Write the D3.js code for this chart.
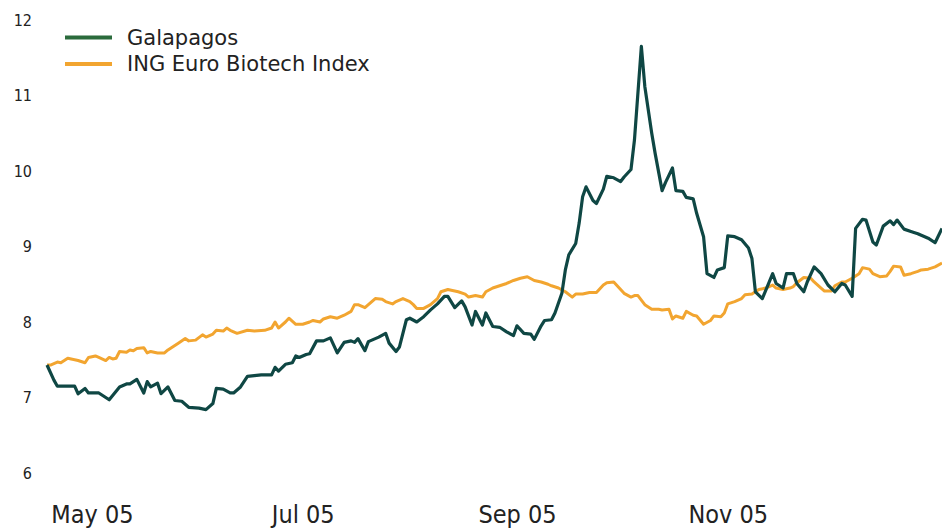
<!DOCTYPE html>
<html>
<head>
<meta charset="utf-8">
<script src="https://cdn.jsdelivr.net/npm/d3@7"></script>
<style>
  html, body { margin: 0; padding: 0; background: #fff; }
  svg { display: block; }
</style>
</head>
<body>
<svg id="chart" width="942" height="529"></svg>
<script>
const seriesNames = ["Galapagos", "ING Euro Biotech Index"];

const galDates = ["2005-04-18","2005-04-20","2005-04-21","2005-04-26","2005-04-27","2005-04-29","2005-04-30","2005-05-03","2005-05-06","2005-05-09","2005-05-11","2005-05-12","2005-05-14","2005-05-16","2005-05-17","2005-05-18","2005-05-20","2005-05-21","2005-05-23","2005-05-25","2005-05-27","2005-05-29","2005-06-01","2005-06-03","2005-06-05","2005-06-06","2005-06-08","2005-06-10","2005-06-11","2005-06-13","2005-06-15","2005-06-17","2005-06-19","2005-06-22","2005-06-23","2005-06-24","2005-06-26","2005-06-28","2005-06-29","2005-06-30","2005-07-02","2005-07-03","2005-07-05","2005-07-07","2005-07-09","2005-07-11","2005-07-13","2005-07-15","2005-07-16","2005-07-17","2005-07-19","2005-07-20","2005-07-22","2005-07-23","2005-07-25","2005-07-26","2005-07-28","2005-07-29","2005-07-31","2005-08-01","2005-08-03","2005-08-05","2005-08-07","2005-08-09","2005-08-11","2005-08-12","2005-08-14","2005-08-16","2005-08-17","2005-08-19","2005-08-20","2005-08-22","2005-08-23","2005-08-25","2005-08-27","2005-08-29","2005-08-31","2005-09-01","2005-09-03","2005-09-05","2005-09-06","2005-09-08","2005-09-09","2005-09-11","2005-09-12","2005-09-14","2005-09-15","2005-09-16","2005-09-18","2005-09-19","2005-09-20","2005-09-21","2005-09-23","2005-09-24","2005-09-26","2005-09-27","2005-09-29","2005-10-01","2005-10-02","2005-10-04","2005-10-05","2005-10-07","2005-10-08","2005-10-10","2005-10-11","2005-10-13","2005-10-14","2005-10-16","2005-10-17","2005-10-19","2005-10-20","2005-10-22","2005-10-23","2005-10-25","2005-10-26","2005-10-28","2005-10-29","2005-10-31","2005-11-01","2005-11-03","2005-11-05","2005-11-07","2005-11-08","2005-11-09","2005-11-11","2005-11-14","2005-11-15","2005-11-17","2005-11-18","2005-11-20","2005-11-21","2005-11-23","2005-11-24","2005-11-26","2005-11-28","2005-11-30","2005-12-02","2005-12-04","2005-12-05","2005-12-07","2005-12-08","2005-12-10","2005-12-11","2005-12-13","2005-12-14","2005-12-16","2005-12-18","2005-12-19","2005-12-20","2005-12-22","2005-12-24","2005-12-26","2005-12-27","2005-12-29","2005-12-31","2006-01-02"];
const galValues = [7.43,7.23,7.15,7.15,7.05,7.12,7.06,7.06,6.97,7.14,7.18,7.18,7.24,7.06,7.21,7.14,7.19,7.05,7.14,6.96,6.95,6.87,6.86,6.84,6.92,7.12,7.11,7.06,7.06,7.14,7.28,7.29,7.30,7.30,7.40,7.35,7.44,7.46,7.55,7.53,7.57,7.58,7.75,7.75,7.79,7.59,7.73,7.75,7.73,7.78,7.62,7.74,7.78,7.80,7.85,7.72,7.61,7.67,8.03,8.05,8.00,8.07,8.16,8.24,8.34,8.34,8.19,8.28,8.20,7.96,8.14,7.96,8.12,7.94,7.93,7.87,7.82,7.95,7.85,7.84,7.77,7.95,8.02,8.03,8.12,8.38,8.69,8.89,9.04,9.31,9.66,9.79,9.61,9.57,9.76,9.93,9.91,9.86,9.92,10.02,10.41,11.65,11.12,10.50,10.23,9.74,9.85,10.04,9.74,9.73,9.65,9.63,9.44,9.13,8.64,8.59,8.69,8.72,9.14,9.13,9.09,8.98,8.84,8.40,8.31,8.64,8.51,8.45,8.64,8.64,8.51,8.40,8.53,8.73,8.64,8.49,8.40,8.51,8.49,8.34,9.24,9.36,9.35,9.06,9.02,9.27,9.34,9.29,9.35,9.23,9.20,9.17,9.15,9.11,9.05,9.24];

const ingDates = ["2005-04-18","2005-04-19","2005-04-21","2005-04-22","2005-04-24","2005-04-27","2005-04-29","2005-04-30","2005-05-02","2005-05-03","2005-05-05","2005-05-06","2005-05-07","2005-05-08","2005-05-09","2005-05-11","2005-05-12","2005-05-13","2005-05-14","2005-05-16","2005-05-17","2005-05-18","2005-05-20","2005-05-22","2005-05-23","2005-05-26","2005-05-28","2005-05-29","2005-05-31","2005-06-02","2005-06-03","2005-06-05","2005-06-06","2005-06-08","2005-06-09","2005-06-10","2005-06-12","2005-06-15","2005-06-17","2005-06-20","2005-06-22","2005-06-23","2005-06-24","2005-06-26","2005-06-27","2005-06-29","2005-07-01","2005-07-03","2005-07-04","2005-07-06","2005-07-07","2005-07-09","2005-07-11","2005-07-13","2005-07-15","2005-07-16","2005-07-17","2005-07-19","2005-07-21","2005-07-22","2005-07-24","2005-07-25","2005-07-27","2005-07-28","2005-07-30","2005-08-01","2005-08-02","2005-08-03","2005-08-05","2005-08-07","2005-08-09","2005-08-10","2005-08-12","2005-08-13","2005-08-15","2005-08-17","2005-08-18","2005-08-20","2005-08-22","2005-08-23","2005-08-25","2005-08-27","2005-08-29","2005-08-31","2005-09-02","2005-09-04","2005-09-06","2005-09-08","2005-09-10","2005-09-11","2005-09-13","2005-09-15","2005-09-17","2005-09-18","2005-09-20","2005-09-22","2005-09-24","2005-09-26","2005-09-27","2005-09-29","2005-09-30","2005-10-02","2005-10-04","2005-10-05","2005-10-06","2005-10-08","2005-10-10","2005-10-12","2005-10-13","2005-10-15","2005-10-16","2005-10-17","2005-10-19","2005-10-20","2005-10-22","2005-10-23","2005-10-25","2005-10-27","2005-10-28","2005-10-30","2005-10-31","2005-11-01","2005-11-03","2005-11-05","2005-11-06","2005-11-08","2005-11-10","2005-11-12","2005-11-14","2005-11-15","2005-11-17","2005-11-19","2005-11-20","2005-11-21","2005-11-23","2005-11-25","2005-11-26","2005-11-28","2005-11-29","2005-12-01","2005-12-02","2005-12-04","2005-12-05","2005-12-07","2005-12-09","2005-12-10","2005-12-12","2005-12-13","2005-12-15","2005-12-17","2005-12-18","2005-12-19","2005-12-21","2005-12-22","2005-12-24","2005-12-26","2005-12-27","2005-12-29","2005-12-31","2006-01-02"];
const ingValues = [7.43,7.43,7.47,7.46,7.52,7.49,7.46,7.53,7.55,7.53,7.49,7.53,7.51,7.52,7.61,7.60,7.63,7.62,7.65,7.66,7.59,7.61,7.59,7.59,7.63,7.72,7.78,7.75,7.76,7.83,7.80,7.84,7.89,7.88,7.92,7.89,7.85,7.89,7.88,7.89,7.92,8.00,7.92,8.00,8.05,7.97,7.97,8.00,8.02,8.00,8.04,8.07,8.05,8.09,8.14,8.23,8.23,8.19,8.27,8.31,8.30,8.27,8.24,8.27,8.31,8.27,8.23,8.18,8.18,8.23,8.31,8.40,8.43,8.42,8.40,8.37,8.33,8.35,8.33,8.40,8.45,8.48,8.51,8.55,8.58,8.60,8.55,8.53,8.50,8.48,8.45,8.40,8.33,8.37,8.37,8.39,8.39,8.49,8.52,8.53,8.48,8.38,8.33,8.35,8.35,8.23,8.17,8.17,8.16,8.17,8.04,8.08,8.05,8.14,8.09,8.08,7.97,8.02,8.08,8.07,8.12,8.24,8.27,8.31,8.36,8.37,8.43,8.45,8.49,8.45,8.43,8.45,8.47,8.52,8.59,8.58,8.53,8.45,8.41,8.41,8.48,8.53,8.53,8.58,8.64,8.72,8.70,8.64,8.60,8.61,8.67,8.74,8.73,8.62,8.64,8.67,8.69,8.70,8.73,8.78];

const yTicks = [6, 7, 8, 9, 10, 11, 12];
const xTickDates = ["2005-05-01", "2005-07-01", "2005-09-01", "2005-11-01"];
const xTickLabels = ["May 05", "Jul 05", "Sep 05", "Nov 05"];

const parse = d3.timeParse("%Y-%m-%d");
const galData = galDates.map((d, i) => ({ date: parse(d), value: galValues[i] }));
const ingData = ingDates.map((d, i) => ({ date: parse(d), value: ingValues[i] }));

const colors = { gal: "#0f4744", ing: "#f2a530", galLegend: "#2b6b3c" };

const svg = d3.select("#chart");
const x = d3.scaleTime()
  .domain([parse("2005-04-18"), parse("2006-01-02")])
  .range([47, 942]);
const y = d3.scaleLinear().domain([6, 12]).range([473, 20]);

// Y axis
const yAxis = svg.append("g")
  .attr("transform", "translate(32,0)")
  .call(d3.axisLeft(y).tickValues(yTicks).tickSize(0).tickPadding(0).tickFormat(d3.format("d")));
yAxis.select(".domain").remove();
yAxis.selectAll("text")
  .attr("fill", "#222")
  .style("font-family", "'DejaVu Sans Condensed', 'DejaVu Sans', sans-serif")
  .style("font-stretch", "condensed")
  .style("font-size", "16px");

// X axis
const xAxis = svg.append("g")
  .attr("transform", "translate(0,500)")
  .call(d3.axisBottom(x)
    .tickValues(xTickDates.map(parse))
    .tickFormat((d, i) => xTickLabels[i])
    .tickSize(0).tickPadding(5));
xAxis.select(".domain").remove();
xAxis.selectAll("text")
  .attr("fill", "#222")
  .style("font-family", "'DejaVu Sans Condensed', 'DejaVu Sans', sans-serif")
  .style("font-stretch", "condensed")
  .style("font-size", "25px");

// Lines
const line = d3.line().x(d => x(d.date)).y(d => y(d.value));
svg.append("path").datum(ingData)
  .attr("d", line).attr("fill", "none")
  .attr("stroke", colors.ing).attr("stroke-width", 3)
  .attr("stroke-linejoin", "round");
svg.append("path").datum(galData)
  .attr("d", line).attr("fill", "none")
  .attr("stroke", colors.gal).attr("stroke-width", 3.2)
  .attr("stroke-linejoin", "round");

// Legend
const legend = svg.append("g");
const legendItems = [
  { name: seriesNames[0], color: colors.galLegend, y: 37.5 },
  { name: seriesNames[1], color: colors.ing, y: 64 }
];
legendItems.forEach(it => {
  legend.append("line")
    .attr("x1", 65).attr("x2", 112).attr("y1", it.y).attr("y2", it.y)
    .attr("stroke", it.color).attr("stroke-width", 4);
  legend.append("text")
    .attr("x", 127).attr("y", it.y + 7)
    .attr("fill", "#222")
    .style("font-family", "'DejaVu Sans', sans-serif")
    .style("font-size", "21px")
    .text(it.name);
});
</script>
</body>
</html>
